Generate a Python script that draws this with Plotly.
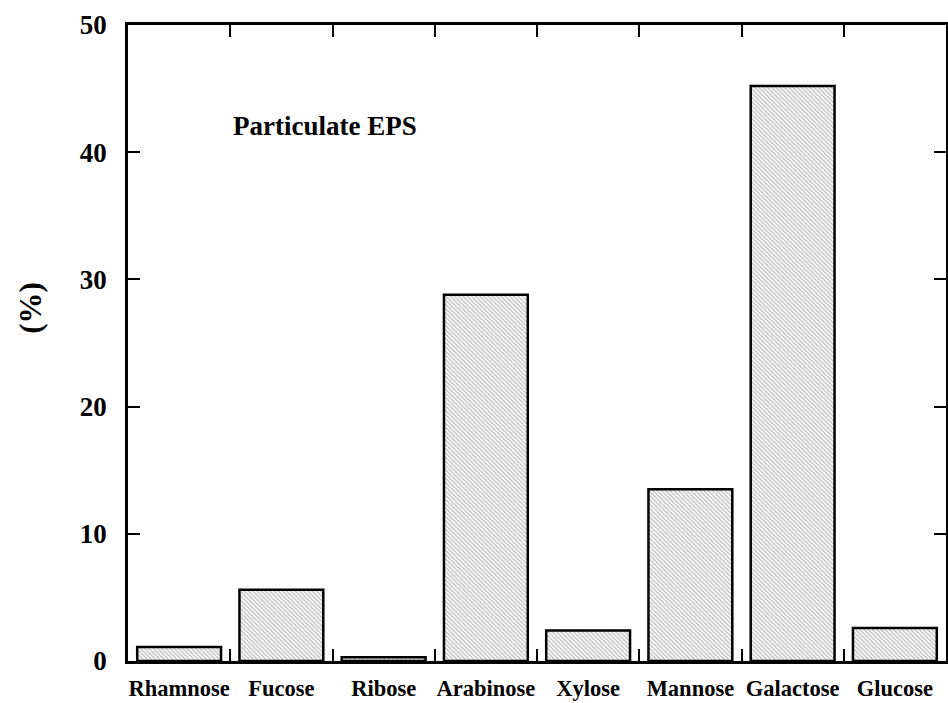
import plotly.graph_objects as go

# Monosaccharide composition of particulate EPS (%)
sugars = ["Rhamnose", "Fucose", "Ribose", "Arabinose", "Xylose",
          "Mannose", "Galactose", "Glucose"]
percent = [1.1, 5.6, 0.3, 28.8, 2.4, 13.5, 45.2, 2.6]
y_ticks = [0, 10, 20, 30, 40, 50]

serif = "Liberation Serif, Times New Roman, serif"

fig = go.Figure(
    go.Bar(
        x=sugars,
        y=percent,
        width=0.82,
        marker=dict(
            color="white",
            line=dict(color="black", width=2.5),
            pattern=dict(shape="\\", size=3, solidity=0.5,
                         fgcolor="#8a8a8a", bgcolor="white"),
        ),
    )
)

fig.update_xaxes(
    type="category",
    range=[-0.5, 7.5],
    showline=True, linecolor="black", linewidth=2.5,
    mirror="allticks",
    ticks="inside", ticklen=12, tickwidth=2, tickcolor="black",
    tickson="boundaries",
    tickangle=0,
    automargin=False,
    ticklabelstandoff=5,
    tickfont=dict(family=serif, size=22.5, color="black", weight="bold"),
    showgrid=False, zeroline=False,
)
fig.update_yaxes(
    range=[0, 50],
    tickvals=y_ticks,
    showline=True, linecolor="black", linewidth=2.5,
    mirror="allticks",
    ticks="inside", ticklen=12, tickwidth=2, tickcolor="black",
    automargin=False,
    ticklabelstandoff=13,
    tickfont=dict(family=serif, size=27, color="black", weight="bold"),
    showgrid=False, zeroline=False,
)

fig.add_annotation(
    text="Particulate EPS", xref="paper", yref="paper",
    x=0.126, y=0.841, xanchor="left", yanchor="middle", showarrow=False,
    font=dict(family=serif, size=27, color="black", weight="bold"),
)
fig.add_annotation(
    text="(%)", xref="paper", yref="paper",
    x=-0.12, y=0.555, xanchor="center", yanchor="middle",
    textangle=-90, showarrow=False,
    font=dict(family=serif, size=31, color="black", weight="bold"),
)

fig.update_layout(
    width=948, height=703,
    margin=dict(l=128, r=2, t=25, b=42),
    paper_bgcolor="white", plot_bgcolor="white",
    showlegend=False,
    bargap=0.18,
)

fig.write_html("out.html")
